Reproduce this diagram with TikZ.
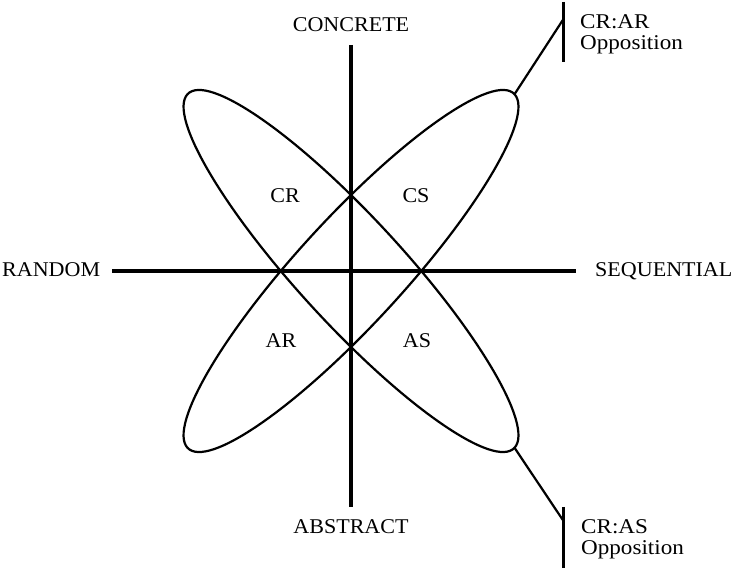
\documentclass[tikz,border=0pt]{standalone}
\usepackage{fontspec}
\setmainfont{Liberation Serif}[FakeStretch=1.05]
\newfontfamily\notefont{Liberation Serif}[FakeStretch=1.1]
\usetikzlibrary{calc}

\begin{document}
\begin{tikzpicture}[x=1pt,y=1pt,
    axis/.style={line width=3.2pt},
    loop/.style={line width=2.2pt},
    lead/.style={line width=2.2pt},
    lab/.style={font=\fontsize{21}{25}\selectfont,inner sep=0pt,anchor=base},
    note/.style={font=\notefont\fontsize{21}{21}\selectfont,inner sep=0pt,align=left,anchor=north west}]
    \useasboundingbox (0,0) rectangle (736,572);
    % axes
    \coordinate (top) at (351,527);
    \coordinate (bottom) at (351,65);
    \coordinate (left) at (112,301);
    \coordinate (right) at (576,301);
    \draw[axis] (top) -- (bottom);
    \draw[axis] (left) -- (right);
    \node[lab] (concrete) at (351,540) {CONCRETE};
    \node[lab] (abstract) at (351,38) {ABSTRACT};
    \node[lab,anchor=base west] (random) at (2,295) {RANDOM};
    \node[lab,anchor=base west] (sequential) at (595,295) {SEQUENTIAL};
    % the two loops
    \begin{scope}[shift={(351,301)},xscale=0.925]
      \draw[loop,rotate=45] (0,0) ellipse (250 and 55);
      \draw[loop,rotate=-45] (0,0) ellipse (250 and 55);
      \coordinate (tipAR) at (45:250);
      \coordinate (tipAS) at (-45:250);
    \end{scope}
    \foreach \name/\x/\y in {CR/285/369,CS/416/369,AR/281/224,AS/417/224}{
      \node[lab] (\name) at (\x,\y) {\name};
    }
    % oppositions
    \coordinate (barAR) at (563.5,553);
    \draw[lead] (tipAR) -- (barAR);
    \draw[lead] (563.5,570) -- (563.5,510);
    \node[note] (oppAR) at (580,558) {CR:AR\\Opposition};
    \coordinate (barAS) at (563.5,51);
    \draw[lead] (tipAS) -- (barAS);
    \draw[lead] (563.5,65) -- (563.5,4);
    \node[note] (oppAS) at (581,52.5) {CR:AS\\Opposition};
\end{tikzpicture}
\end{document}
